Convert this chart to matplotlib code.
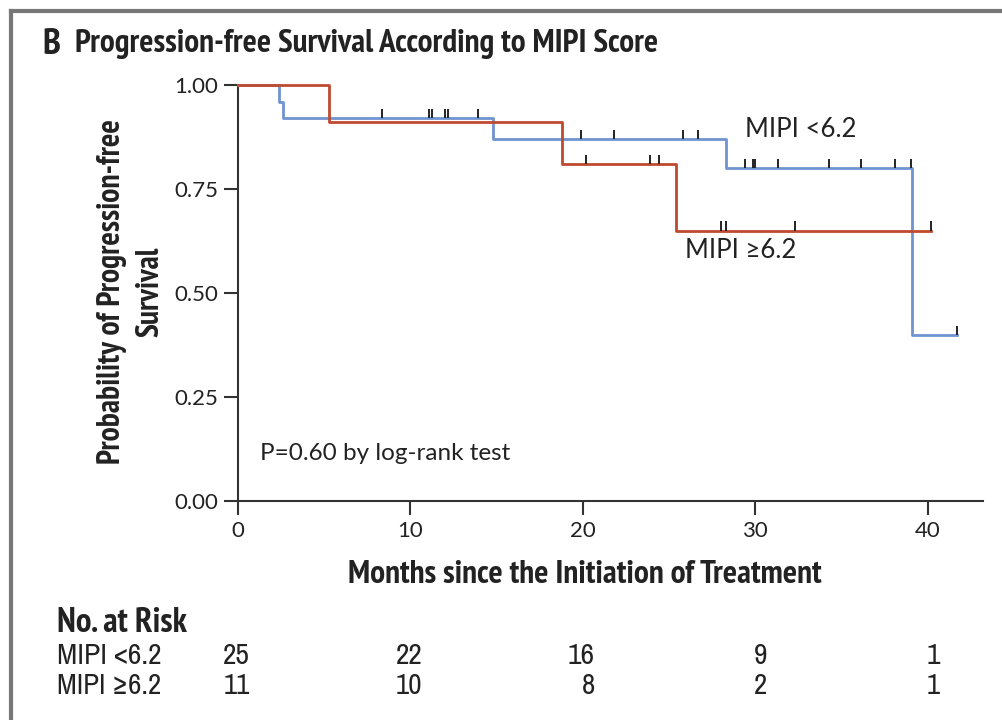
import numpy as np
import matplotlib
matplotlib.use("Agg")
from matplotlib import pyplot as plt
from matplotlib import font_manager
from matplotlib.lines import Line2D
from matplotlib.transforms import ScaledTranslation, blended_transform_factory

# Kaplan-Meier steps
low_t = [0, 2.4, 2.6, 14.8, 28.3, 39.1, 41.7]
low_s = [1.0, 0.96, 0.92, 0.87, 0.80, 0.40, 0.40]
high_t = [0, 5.3, 18.8, 25.4, 40.2]
high_s = [1.0, 0.91, 0.81, 0.65, 0.65]

# censoring marks (months)
low_cens = [8.35, 11.1, 11.25, 12.0, 12.15, 13.9, 19.9, 21.8, 25.8, 26.7,
            29.4, 29.85, 30.0, 31.3, 34.3, 36.1, 38.1, 39.05, 41.7]
high_cens = [20.2, 23.9, 24.4, 28.0, 28.3, 32.3, 40.2]

risk_times = [0, 10, 20, 30, 40]
risk_low = [25, 22, 16, 9, 1]
risk_high = [11, 10, 8, 2, 1]
group_names = ["MIPI <6.2", "MIPI \u22656.2"]

blue = "#7094cf"
red = "#bf4a30"
ink = "#222222"
body = ["Lato", "DejaVu Sans"]


def pick_condensed(bold):
    # prefer a real condensed face; Noto first, then anything narrow
    want = 700 if bold else 400
    best = None
    for f in font_manager.fontManager.ttflist:
        if f.style != "normal":
            continue
        st = str(f.stretch).lower()
        nm = f.name.lower()
        if st != "condensed" and "narrow" not in nm and "condensed" not in nm:
            continue
        w = f.weight if isinstance(f.weight, (int, float)) else \
            font_manager.weight_dict.get(f.weight, 400)
        rank = (0 if "noto sans" in nm else 1 if "narrow" in nm else 2,
                abs(w - want))
        if best is None or rank < best[0]:
            best = (rank, f.fname)
    if best:
        return font_manager.FontProperties(fname=best[1])
    return font_manager.FontProperties(family="Lato",
                                       weight="bold" if bold else "normal")


cond_bold = pick_condensed(True)
cond_reg = pick_condensed(False)


def surv_at(t, times, surv):
    i = np.searchsorted(times, t, side="right") - 1
    return np.array(surv)[i]


def fit(txt, target, vertical=False):
    # scale a text so its extent in pixels matches the reference
    r = fig.canvas.get_renderer()
    bb = txt.get_window_extent(r)
    size = bb.height if vertical else bb.width
    txt.set_fontsize(txt.get_fontsize() * target / size)
    return txt.get_fontsize()


fig = plt.figure(figsize=(10.02, 7.2), dpi=100)
ax = fig.add_axes([0.2375, 0.304, 0.7435, 0.578])

ax.step(low_t, low_s, where="post", color=blue, lw=2, clip_on=False, zorder=3)
ax.step(high_t, high_s, where="post", color=red, lw=2, clip_on=False, zorder=3)

for cens, times, surv in [(low_cens, low_t, low_s), (high_cens, high_t, high_s)]:
    yy = np.array([surv_at(c, times, surv) for c in cens])
    ax.vlines(cens, yy, yy + 0.022, color=ink, lw=1.4, clip_on=False, zorder=4)

ax.set_xlim(0, 43.2)
ax.set_ylim(0, 1.0)
ax.set_xticks(risk_times)
ax.set_yticks([0, 0.25, 0.5, 0.75, 1.0])
ax.set_yticklabels(["0.00", "0.25", "0.50", "0.75", "1.00"])
for s in ["top", "right"]:
    ax.spines[s].set_visible(False)
for s in ["left", "bottom"]:
    ax.spines[s].set_color("#333333")
    ax.spines[s].set_linewidth(1.5)
ax.tick_params(length=10, width=1.5, color="#333333", labelsize=16,
               labelcolor=ink, pad=4)
for lab in ax.get_xticklabels() + ax.get_yticklabels():
    lab.set_family(body)

ax.text(29.4, 0.875, group_names[0], fontsize=18.5, family=body, color=ink)
ax.text(25.9, 0.585, group_names[1], fontsize=18.5, family=body, color=ink)
ax.text(1.3, 0.1, "P=0.60 by log-rank test", fontsize=17.5, family=body,
        color=ink)

xl = fig.text(585 / 1002, 1 - 575 / 720, "Months since the Initiation of Treatment",
              fontproperties=cond_bold, fontsize=22, ha="center", va="center",
              color=ink)
fit(xl, 474)
yl1 = fig.text(0.112, 1 - 292 / 720, "Probability of Progression-free",
               rotation=90, ha="center", va="center", fontproperties=cond_bold,
               fontsize=22, color=ink)
s = fit(yl1, 345, vertical=True)
fig.text(0.150, 1 - 292 / 720, "Survival", rotation=90, ha="center",
         va="center", fontproperties=cond_bold, fontsize=s, color=ink)

title = fig.text(0.075, 1 - 44 / 720,
                 "Progression-free Survival According to MIPI Score",
                 fontproperties=cond_bold, fontsize=22, va="center", color=ink)
s = fit(title, 580)
fig.text(0.042, 1 - 44 / 720, "B", fontproperties=cond_bold, fontsize=s * 1.1,
         va="center", color=ink)

# number at risk table
nr = fig.text(0.057, 1 - 623 / 720, "No. at Risk", fontproperties=cond_bold,
              fontsize=22, va="center", color=ink)
fit(nr, 130)
trans = blended_transform_factory(ax.transData, fig.transFigure) + \
    ScaledTranslation(12 / 100, 0, fig.dpi_scale_trans)
for row, (name, counts) in enumerate(zip(group_names, [risk_low, risk_high])):
    y = 1 - (655 + 30 * row) / 720
    lab = fig.text(0.057, y, name, fontproperties=cond_reg, fontsize=20,
                   va="center", color=ink)
    s = fit(lab, 105)
    for t, n in zip(risk_times, counts):
        ax.text(t, y, str(n), transform=trans, ha="right", va="center",
                fontproperties=cond_reg, fontsize=s, color=ink, clip_on=False)

# panel frame (left and top edges)
fig.add_artist(Line2D([0.011, 0.011], [0, 0.985], transform=fig.transFigure,
                      color="#777777", lw=3))
fig.add_artist(Line2D([0.011, 1], [0.985, 0.985], transform=fig.transFigure,
                      color="#777777", lw=3))

fig.savefig("out.png", dpi=100)
